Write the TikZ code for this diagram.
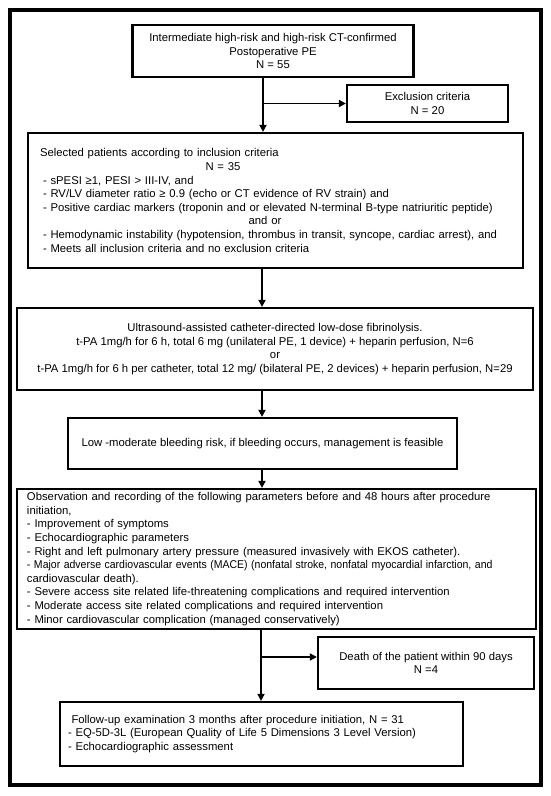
\documentclass[tikz,border=0pt]{standalone}
\usepackage{fontspec}
\usepackage{graphicx}
\setmainfont{Liberation Sans}
\usetikzlibrary{arrows.meta}
\begin{document}
\begin{tikzpicture}[x=1pt,y=-1pt,
  box/.style={draw, line width=2.2pt, rectangle, inner sep=0pt,
    font=\fontsize{11.3pt}{13.6pt}\selectfont, align=center},
  lbox/.style={box, align=left},
  arr/.style={line width=1.9pt, -{Triangle[length=7pt,width=7pt]}},
]
\useasboundingbox (0,0) rectangle (550,796);
\node[draw, line width=3.4pt, minimum width=531pt, minimum height=775pt, inner sep=0pt] (frame) at (275.5,397.5) {};

\node[box, minimum width=281pt, minimum height=52pt] (b1) at (273,51)
  {Intermediate high-risk and high-risk CT-confirmed\\Postoperative PE\\N = 55};

\node[box, minimum width=161pt, minimum height=37pt] (excl) at (427.5,103.5)
  {Exclusion criteria\\N = 20};

\node[lbox, minimum width=495pt, minimum height=135pt, text width=471pt, inner xsep=12pt] (b2) at (275.5,200.5)
  {Selected patients according to inclusion criteria\\
   \hspace*{183pt}\makebox[0pt]{N = 35}\\
   \hspace*{3pt}- sPESI ≥1, PESI > III-IV, and\\
   \hspace*{3pt}- RV/LV diameter ratio ≥ 0.9 (echo or CT evidence of RV strain) and\\
   \hspace*{3pt}- Positive cardiac markers (troponin and or elevated N-terminal B-type natriuritic peptide)\\
   \hspace*{225pt}\makebox[0pt]{and or}\\
   \hspace*{3pt}- Hemodynamic instability (hypotension, thrombus in transit, syncope, cardiac arrest), and\\
   \hspace*{3pt}- Meets all inclusion criteria and no exclusion criteria};

\node[box, minimum width=516pt, minimum height=82pt] (b3) at (275,349)
  {Ultrasound-assisted catheter-directed low-dose fibrinolysis.\\
   t-PA 1mg/h for 6 h, total 6 mg (unilateral PE, 1 device) + heparin perfusion, N=6\\
   or\\
   t-PA 1mg/h for 6 h per catheter, total 12 mg/ (bilateral PE, 2 devices) + heparin perfusion, N=29};

\node[box, minimum width=389pt, minimum height=51pt] (b4) at (262.5,443.5)
  {Low -moderate bleeding risk, if bleeding occurs, management is feasible};

\node[lbox, minimum width=519pt, minimum height=140pt, text width=499pt, inner xsep=10pt] (b5) at (276.5,559)
  {Observation and recording of the following parameters before and 48 hours after procedure\\
   initiation,\\
   - Improvement of symptoms\\
   - Echocardiographic parameters\\
   - Right and left pulmonary artery pressure (measured invasively with EKOS catheter).\\
   \scalebox{0.93}[1]{- Major adverse cardiovascular events (MACE) (nonfatal stroke, nonfatal myocardial infarction, and}\\
   cardiovascular death).\\
   - Severe access site related life-threatening complications and required intervention\\
   - Moderate access site related complications and required intervention\\
   - Minor cardiovascular complication (managed conservatively)};

\node[box, minimum width=216pt, minimum height=52pt] (death) at (426,663)
  {Death of the patient within 90 days\\N =4};

\node[lbox, minimum width=403pt, minimum height=64pt, text width=387pt, inner xsep=8pt] (b6) at (261.5,734)
  {\hspace*{3.5pt}Follow-up examination 3 months after procedure initiation, N = 31\\
   - EQ-5D-3L (European Quality of Life 5 Dimensions 3 Level Version)\\
   - Echocardiographic assessment};

\coordinate (t1) at (263,103.5);
\coordinate (t2) at (262,0);
\coordinate (t3) at (261,657);
\draw[arr] (b1.south -| t1) -- (b2.north -| t1);
\draw[arr] (t1) -- (excl.west);
\draw[arr] (b2.south -| t2) -- (b3.north -| t2);
\draw[arr] (b3.south -| t2) -- (b4.north -| t2);
\draw[arr] (b4.south -| t2) -- (b5.north -| t2);
\draw[arr] (b5.south -| t3) -- (b6.north -| t3);
\draw[arr] (t3) -- (t3 -| death.west);
\end{tikzpicture}
\end{document}
